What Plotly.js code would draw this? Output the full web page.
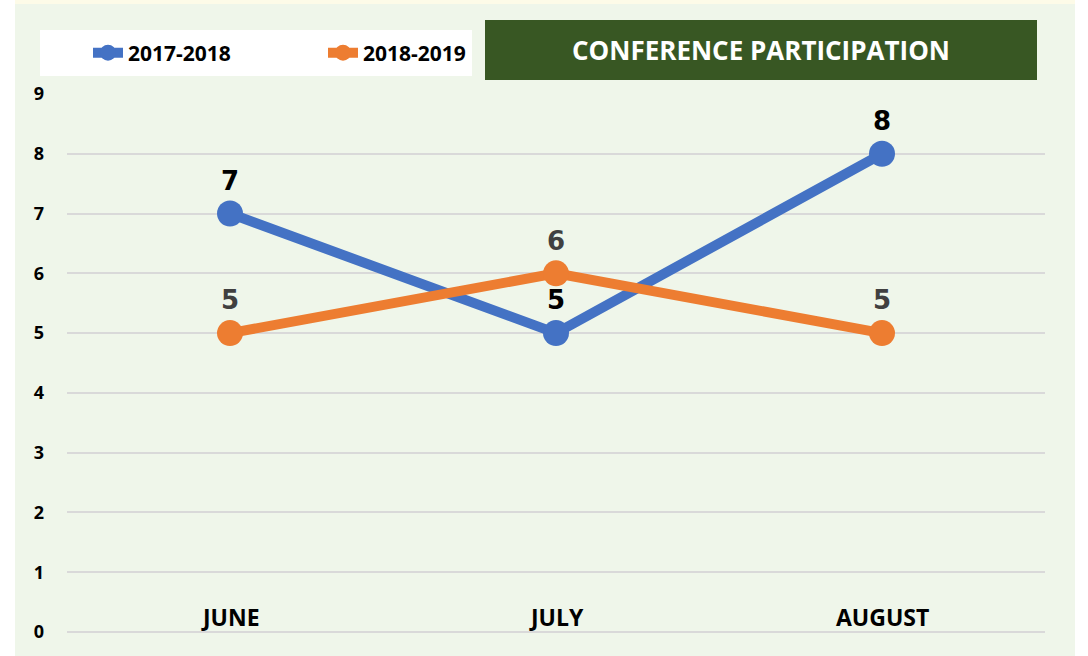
<!DOCTYPE html>
<html>
<head>
<meta charset="utf-8">
<script src="https://cdn.plot.ly/plotly-3.0.1.min.js"></script>
<style>html,body{margin:0;padding:0;background:#fff}#chart{width:1088px;height:656px}</style>
</head>
<body>
<div id="chart"></div>
<script>
// Conference participation by month
const months = ['JUNE', 'JULY', 'AUGUST'];
const s2017 = [7, 5, 8];
const s2018 = [5, 6, 5];
const seriesNames = ['2017-2018', '2018-2019'];
const yTicks = [0, 1, 2, 3, 4, 5, 6, 7, 8, 9];

const blue = '#4472C4', orange = '#ED7D31';
const labelFont = 'DejaVu Sans, Arial, sans-serif';
const uiFont = 'Open Sans, Noto Sans, sans-serif';

// pixel -> paper helpers (plot area 67..1045 x, 94..632 y)
const px = x => (x - 67) / 978;
const py = y => (632 - y) / 538;

const traces = [
  {x: months, y: s2017, name: seriesNames[0], mode: 'lines+markers+text',
   line: {color: blue, width: 10}, marker: {color: blue, size: 26},
   text: s2017.map(String), textposition: 'top center',
   textfont: {family: labelFont, size: 26, color: '#000', weight: 'bold'},
   cliponaxis: false},
  {x: months, y: s2018, name: seriesNames[1], mode: 'lines+markers+text',
   line: {color: orange, width: 10}, marker: {color: orange, size: 26},
   text: s2018.map(String), textposition: 'top center',
   textfont: {family: labelFont, size: 26, color: '#404040', weight: 'bold'},
   cliponaxis: false}
];

// month names sit inside the plot, just above the zero line
const monthLabels = months.map(m => ({
  x: m, y: 0, xref: 'x', yref: 'y', yanchor: 'bottom', yshift: -3, showarrow: false,
  text: m, font: {family: uiFont, size: 23, color: '#000', weight: 'bold'}
}));

const layout = {
  width: 1088, height: 656,
  margin: {l: 67, r: 43, t: 94, b: 24},
  paper_bgcolor: '#ffffff',
  plot_bgcolor: 'rgba(0,0,0,0)',
  font: {family: uiFont, color: '#000'},
  title: {text: 'CONFERENCE PARTICIPATION', x: 761 / 1088, xanchor: 'center',
          y: 1 - 51 / 656, yanchor: 'middle',
          font: {family: uiFont, size: 26, color: '#fff', weight: 'bold'}},
  xaxis: {type: 'category', range: [-0.5, 2.5], showgrid: false, zeroline: false,
          showline: false, ticks: '', showticklabels: false, fixedrange: true},
  yaxis: {range: [0, 9], tickvals: yTicks, showgrid: true, gridcolor: '#D9D9D9',
          gridwidth: 2, zeroline: true, zerolinecolor: '#D9D9D9', zerolinewidth: 2,
          showline: false, ticks: '', ticklabelstandoff: 22,
          tickfont: {family: uiFont, size: 18, color: '#000', weight: 'bold'},
          fixedrange: true},
  showlegend: true,
  legend: {orientation: 'h', x: px(88), xanchor: 'left', y: py(53), yanchor: 'middle',
           bgcolor: 'rgba(0,0,0,0)', entrywidth: 190, entrywidthmode: 'pixels',
           font: {family: uiFont, size: 21, color: '#000', weight: 'bold'}},
  annotations: monthLabels,
  shapes: [
    {type: 'rect', xref: 'paper', yref: 'paper', layer: 'below',
     x0: px(15), x1: px(1075), y0: py(660), y1: py(4),
     fillcolor: '#EFF6EA', line: {width: 0}},
    {type: 'rect', xref: 'paper', yref: 'paper', layer: 'below',
     x0: px(15), x1: px(1075), y0: py(4), y1: py(0),
     fillcolor: '#FDFBE8', line: {width: 0}},
    {type: 'rect', xref: 'paper', yref: 'paper', layer: 'below',
     x0: px(40), x1: px(472), y0: py(76), y1: py(30),
     fillcolor: '#ffffff', line: {width: 0}},
    {type: 'rect', xref: 'paper', yref: 'paper', layer: 'below',
     x0: px(485), x1: px(1037), y0: py(80), y1: py(20),
     fillcolor: '#385723', line: {width: 0}}
  ]
};

Plotly.newPlot('chart', traces, layout, {displayModeBar: false, staticPlot: true});
</script>
</body>
</html>
